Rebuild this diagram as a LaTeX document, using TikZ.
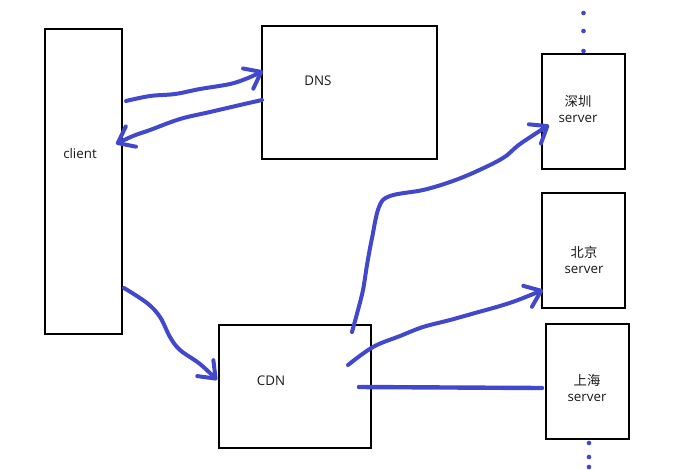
\documentclass[tikz,border=0pt]{standalone}
\usepackage{fontspec}
\setmainfont{Open Sans}
\newfontfamily\cjk{Noto Sans CJK SC}
\usetikzlibrary{arrows.meta, calc, fit}
\definecolor{inkblue}{RGB}{66,72,204}
\tikzset{
  box/.style   ={draw, rectangle, inner sep=0pt, line width=1.5pt},
  lbl/.style   ={font=\fontsize{10}{11.5}\selectfont, text=black!90, align=center, inner sep=0pt},
  ink/.style   ={line width=3pt, inkblue, line cap=round, line join=round},
  inkto/.style ={ink, -{Straight Barb[length=11pt, width=17pt, round]}},
  dot/.style   ={circle, fill=inkblue, inner sep=0pt, minimum size=3.5pt},
}
\begin{document}
\begin{tikzpicture}[x=0.75pt, y=-0.75pt]
  \useasboundingbox (0,0) rectangle (674,469);
  % BOXES
  \node[box, fit={(45,29) (122,334)}]   (client) {};
  \node[box, fit={(262,26) (437,159)}]  (dns)    {};
  \node[box, fit={(219,325) (371,448)}] (cdn)    {};
  \node[box, fit={(542,54) (625,169)}]  (sz)     {};
  \node[box, fit={(542,193) (625,308)}] (bj)     {};
  \node[box, fit={(546,324) (629,439)}] (sh)     {};
  % LABELS
  \node[lbl] (clientlbl) at (80,153)  {client};
  \node[lbl] (dnslbl)    at (318,81)  {DNS};
  \node[lbl] (cdnlbl)    at (271,381) {CDN};
  \node[lbl] (szlbl)     at (578,109) {{\cjk 深圳}\\server};
  \node[lbl] (bjlbl)     at (584,260) {{\cjk 北京}\\server};
  \node[lbl] (shlbl)     at (587,388) {{\cjk 上海}\\server};
  % more servers above and below
  \foreach \dy [count=\i] in {-40,-22,-2}
    \node[dot] (up\i) at ($(sz.north)+(0,\dy)$) {};
  \foreach \dy [count=\i] in {3,17,27}
    \node[dot] (down\i) at ($(sh.south)+(1.5,\dy)$) {};
  % END POINTS OF THE STROKES
  \coordinate (q1) at ($(client.east)+(3,-80.5)$);
  \coordinate (a1) at ($(dns.west)+(2,-21.5)$);
  \coordinate (q2) at ($(dns.west)+(1,7.5)$);
  \coordinate (a2) at ($(client.east)+(-7,-37.5)$);
  \coordinate (q3) at ($(client.east)+(1,106.5)$);
  \coordinate (a3) at ($(cdn.west)+(-1,-6.5)$);
  \coordinate (q4) at ($(cdn.north)+(57,8)$);
  \coordinate (a4) at ($(sz.west)+(8,13.5)$);
  \coordinate (q5) at ($(cdn.east)+(-24,-21.5)$);
  \coordinate (a5) at ($(bj.west)+(2,39.5)$);
  \coordinate (q6) at ($(cdn.east)+(-13,0.5)$);
  \coordinate (a6) at ($(sh.west)+(-3,6.5)$);
  % client <-> DNS
  \draw[inkto] plot[smooth, tension=0.6] coordinates {(q1) (150,96) (175,94) (200,89) (230,84) (248,78) (a1)};
  \draw[inkto] plot[smooth, tension=0.6] coordinates {(q2) (240,105) (210,112) (180,119) (150,130) (133,136) (a2)};
  % client -> CDN
  \draw[inkto] plot[smooth, tension=0.6] coordinates {(q3) (147,303) (160,317) (170,337) (180,350) (200,364) (a3)};
  % CDN -> servers
  \draw[inkto] plot[smooth, tension=0.6] coordinates {(q4) (358,310) (363,290) (367,265) (372,238) (379,207) (390,196) (423,190) (450,182) (475,172) (503,158) (520,144) (a4)};
  \draw[inkto] plot[smooth, tension=0.6] coordinates {(q5) (373,347) (400,336) (423,327) (450,320) (475,313) (500,306) (518,300) (a5)};
  \draw[ink, line width=3.3pt] (q6) -- (a6);
\end{tikzpicture}
\end{document}
